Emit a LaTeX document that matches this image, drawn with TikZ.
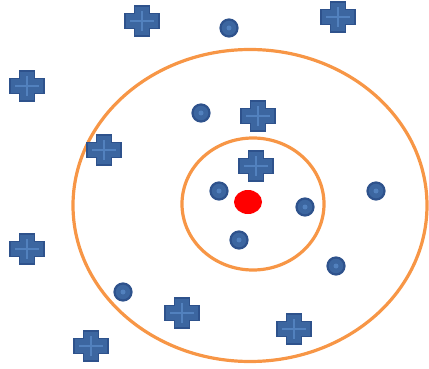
\documentclass[tikz,border=0pt]{standalone}
\usepackage{tikz}
\usetikzlibrary{positioning,shapes.geometric}
\usepackage{xcolor}
\definecolor{RingOrange}{HTML}{F79646}
\definecolor{PointBlue}{HTML}{3C66A0}
\definecolor{PointEdge}{HTML}{2E528C}
\definecolor{PointLight}{HTML}{5281BE}
\definecolor{QueryRed}{HTML}{FF0000}

\begin{document}
\begin{tikzpicture}[x=1pt,y=-1pt,
  ring/.style={draw=RingOrange,line width=3.2pt},
  dot/.style={circle,draw=PointEdge,fill=PointBlue,line width=2.2pt,minimum size=17pt,inner sep=0pt},
  dotspot/.style={circle,fill=PointLight,minimum size=5pt,inner sep=0pt},
  plusbody/.style={fill=PointBlue,draw=PointEdge,line width=1.2pt,line join=miter},
  plusline/.style={draw=PointLight,line width=1.1pt}]
  \useasboundingbox (0,0) rectangle (429,369);
  % rings round the query point
  \draw[ring] (250,205.5) ellipse (177pt and 156pt);
  \draw[ring] (253,204) ellipse (71pt and 66pt);
  % plus class
  \foreach \px/\py [count=\i] in {142/21,338/17,27/86,258/116,104/150,256/166,27/249,182/313,294/329,91/346}{
    \coordinate (p\i) at (\px,\py);
    \draw[plusbody] ([shift={(-17,-7.5)}]p\i) -- ++(9.5,0) -- ++(0,-7.5) -- ++(15,0) -- ++(0,7.5) -- ++(9.5,0)
      -- ++(0,15) -- ++(-9.5,0) -- ++(0,7.5) -- ++(-15,0) -- ++(0,-7.5) -- ++(-9.5,0) -- cycle;
    \draw[plusline] ([xshift=-12pt]p\i) -- ([xshift=12pt]p\i) ([yshift=-10pt]p\i) -- ([yshift=10pt]p\i);
  }
  % circle class
  \foreach \dx/\dy [count=\i] in {229/28,201/113,219/191,305/207,239/240,376/191,336/266,123/292}{
    \node[dot] (d\i) at (\dx,\dy) {};
    \node[dotspot] at (d\i) {};
  }
  % query point
  \node[ellipse,fill=QueryRed,minimum width=28pt,minimum height=24pt,inner sep=0pt] (q) at (248,202) {};
\end{tikzpicture}
\end{document}
